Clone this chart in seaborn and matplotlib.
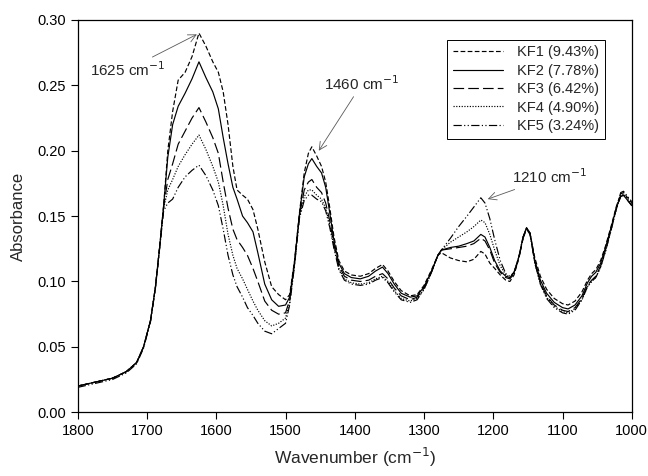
import numpy as np
import pandas as pd
import matplotlib
matplotlib.use("Agg")
import matplotlib.pyplot as plt
import seaborn as sns

# wavenumber grid (cm-1) and absorbance for each sample
wavenumber = [1800, 1775, 1750, 1730, 1715, 1705, 1695, 1688, 1682, 1676,
              1670, 1663, 1655, 1645, 1635, 1625, 1615, 1605, 1597, 1590,
              1583, 1576, 1570, 1562, 1555, 1547, 1540, 1530, 1520, 1510,
              1500, 1494, 1487, 1480, 1473, 1467, 1462, 1455, 1448, 1442,
              1436, 1430, 1423, 1415, 1405, 1392, 1380, 1370, 1360, 1352,
              1343, 1333, 1320, 1310, 1300, 1290, 1280, 1275, 1262, 1250,
              1238, 1228, 1218, 1212, 1205, 1198, 1190, 1182, 1176, 1170,
              1163, 1157, 1152, 1147, 1140, 1132, 1123, 1112, 1100, 1092,
              1082, 1072, 1064, 1058, 1052, 1045, 1038, 1030, 1022, 1016,
              1012, 1006, 1000]

kf1 = [0.020, 0.023, 0.026, 0.031, 0.038, 0.050, 0.070, 0.095, 0.125, 0.158,
       0.200, 0.230, 0.254, 0.260, 0.272, 0.290, 0.280, 0.268, 0.260, 0.245,
       0.220, 0.188, 0.170, 0.166, 0.163, 0.155, 0.140, 0.115, 0.096, 0.090,
       0.086, 0.090, 0.116, 0.152, 0.183, 0.198, 0.203, 0.196, 0.188, 0.176,
       0.156, 0.134, 0.116, 0.108, 0.105, 0.104, 0.106, 0.110, 0.113, 0.108,
       0.100, 0.093, 0.089, 0.090, 0.097, 0.108, 0.120, 0.122, 0.118, 0.116,
       0.115, 0.117, 0.123, 0.121, 0.114, 0.110, 0.105, 0.101, 0.100, 0.105,
       0.118, 0.133, 0.141, 0.137, 0.118, 0.104, 0.094, 0.087, 0.083, 0.082,
       0.085, 0.092, 0.101, 0.106, 0.109, 0.116, 0.127, 0.142, 0.158, 0.167,
       0.168, 0.164, 0.160]

kf2 = [0.020, 0.023, 0.026, 0.031, 0.038, 0.050, 0.070, 0.095, 0.125, 0.158,
       0.195, 0.220, 0.234, 0.244, 0.255, 0.268, 0.256, 0.245, 0.232, 0.210,
       0.190, 0.172, 0.163, 0.150, 0.145, 0.138, 0.122, 0.098, 0.086, 0.081,
       0.082, 0.088, 0.115, 0.151, 0.180, 0.190, 0.194, 0.188, 0.183, 0.172,
       0.152, 0.131, 0.114, 0.106, 0.103, 0.102, 0.104, 0.108, 0.111, 0.106,
       0.098, 0.091, 0.088, 0.089, 0.096, 0.107, 0.120, 0.124, 0.126, 0.127,
       0.129, 0.131, 0.136, 0.134, 0.126, 0.116, 0.108, 0.104, 0.103, 0.107,
       0.119, 0.134, 0.141, 0.137, 0.116, 0.101, 0.091, 0.084, 0.080, 0.079,
       0.082, 0.089, 0.099, 0.104, 0.107, 0.114, 0.126, 0.141, 0.157, 0.165,
       0.166, 0.162, 0.158]

kf3 = [0.020, 0.023, 0.026, 0.031, 0.038, 0.050, 0.070, 0.095, 0.125, 0.157,
       0.178, 0.190, 0.205, 0.215, 0.225, 0.233, 0.222, 0.210, 0.198, 0.176,
       0.156, 0.140, 0.132, 0.126, 0.120, 0.110, 0.100, 0.085, 0.078, 0.075,
       0.076, 0.086, 0.114, 0.150, 0.170, 0.176, 0.178, 0.172, 0.168, 0.160,
       0.146, 0.128, 0.112, 0.104, 0.101, 0.100, 0.101, 0.104, 0.106, 0.102,
       0.095, 0.089, 0.086, 0.088, 0.095, 0.106, 0.120, 0.124, 0.125, 0.126,
       0.127, 0.129, 0.133, 0.131, 0.124, 0.114, 0.107, 0.103, 0.102, 0.106,
       0.118, 0.133, 0.140, 0.136, 0.115, 0.099, 0.089, 0.082, 0.078, 0.077,
       0.080, 0.087, 0.097, 0.101, 0.104, 0.112, 0.124, 0.140, 0.156, 0.165,
       0.166, 0.162, 0.158]

kf4 = [0.020, 0.023, 0.026, 0.031, 0.038, 0.050, 0.070, 0.095, 0.125, 0.156,
       0.170, 0.178, 0.188, 0.197, 0.205, 0.212, 0.201, 0.188, 0.176, 0.158,
       0.136, 0.120, 0.110, 0.102, 0.094, 0.085, 0.078, 0.070, 0.066, 0.068,
       0.072, 0.084, 0.113, 0.149, 0.165, 0.170, 0.170, 0.166, 0.163, 0.156,
       0.143, 0.126, 0.110, 0.102, 0.099, 0.098, 0.099, 0.102, 0.104, 0.100,
       0.093, 0.087, 0.085, 0.087, 0.094, 0.106, 0.120, 0.124, 0.130, 0.134,
       0.138, 0.142, 0.147, 0.145, 0.136, 0.124, 0.112, 0.105, 0.103, 0.107,
       0.119, 0.134, 0.141, 0.137, 0.114, 0.098, 0.088, 0.081, 0.077, 0.076,
       0.079, 0.086, 0.096, 0.100, 0.103, 0.111, 0.123, 0.139, 0.156, 0.166,
       0.167, 0.163, 0.159]

kf5 = [0.019, 0.022, 0.025, 0.030, 0.037, 0.049, 0.069, 0.094, 0.124, 0.154,
       0.160, 0.163, 0.172, 0.180, 0.185, 0.189, 0.181, 0.170, 0.158, 0.140,
       0.120, 0.105, 0.096, 0.088, 0.080, 0.074, 0.068, 0.062, 0.060, 0.064,
       0.068, 0.082, 0.112, 0.148, 0.162, 0.166, 0.166, 0.163, 0.161, 0.154,
       0.141, 0.125, 0.109, 0.101, 0.098, 0.097, 0.098, 0.101, 0.103, 0.099,
       0.092, 0.086, 0.084, 0.086, 0.094, 0.106, 0.120, 0.124, 0.133, 0.142,
       0.150, 0.157, 0.164, 0.160, 0.148, 0.132, 0.116, 0.106, 0.104, 0.107,
       0.119, 0.134, 0.141, 0.137, 0.114, 0.098, 0.087, 0.080, 0.076, 0.075,
       0.078, 0.086, 0.096, 0.100, 0.103, 0.111, 0.123, 0.139, 0.157, 0.168,
       0.169, 0.165, 0.161]

labels = ["KF1 (9.43%)", "KF2 (7.78%)", "KF3 (6.42%)", "KF4 (4.90%)", "KF5 (3.24%)"]
series = [kf1, kf2, kf3, kf4, kf5]

frames = []
for lab, vals in zip(labels, series):
    frames.append(pd.DataFrame({"wavenumber": wavenumber, "absorbance": vals, "sample": lab}))
df = pd.concat(frames, ignore_index=True)

sns.set_style("ticks")
plt.rcParams["font.family"] = ["Liberation Sans", "DejaVu Sans"]

fig = plt.figure(figsize=(6.48, 4.76), dpi=100)
ax = fig.add_axes([0.120, 0.134, 0.855, 0.824])

line_dashes = {
    labels[0]: (4, 2),
    labels[1]: "",
    labels[2]: (9, 3.5),
    labels[3]: (1, 1.3),
    labels[4]: (7, 2, 1, 2, 1, 2),
}
sns.lineplot(data=df, x="wavenumber", y="absorbance", hue="sample", style="sample",
             palette=["black"] * 5, dashes=line_dashes, estimator=None, sort=False,
             linewidth=0.85, ax=ax)

ax.set_xlim(1800, 1000)
ax.set_ylim(0, 0.30)
ax.set_xticks(np.arange(1800, 999, -100))
ax.set_yticks(np.arange(0, 0.301, 0.05))
ax.set_yticklabels([f"{v:.2f}" for v in np.arange(0, 0.301, 0.05)])
ax.tick_params(direction="out", length=5, width=0.8, labelsize=10.5, colors="black")
for sp in ax.spines.values():
    sp.set_linewidth(0.9)
    sp.set_color("black")

ax.set_xlabel("Wavenumber (cm$^{-1}$)", fontsize=12.5, labelpad=6)
ax.set_ylabel("Absorbance", fontsize=12, labelpad=8)

arrow = dict(arrowstyle="->", color="0.35", lw=0.6, mutation_scale=14, shrinkA=0, shrinkB=0)
ax.annotate("1625 cm$^{-1}$", xy=(1628, 0.289), xytext=(1728, 0.262),
            ha="center", va="center", fontsize=11, arrowprops=arrow)
ax.annotate("1460 cm$^{-1}$", xy=(1452, 0.200), xytext=(1390, 0.251),
            ha="center", va="center", fontsize=11, arrowprops=arrow)
ax.annotate("1210 cm$^{-1}$", xy=(1208, 0.163), xytext=(1118, 0.180),
            ha="center", va="center", fontsize=11, arrowprops=arrow)

leg = ax.legend(loc="upper right", bbox_to_anchor=(0.952, 0.950), borderaxespad=0,
                fontsize=10.5, handlelength=3.4, handletextpad=1.0, labelspacing=0.3,
                borderpad=0.4, fancybox=False, framealpha=1, edgecolor="black", title=None)
leg.get_frame().set_linewidth(0.7)

fig.savefig("out.png", dpi=100)
